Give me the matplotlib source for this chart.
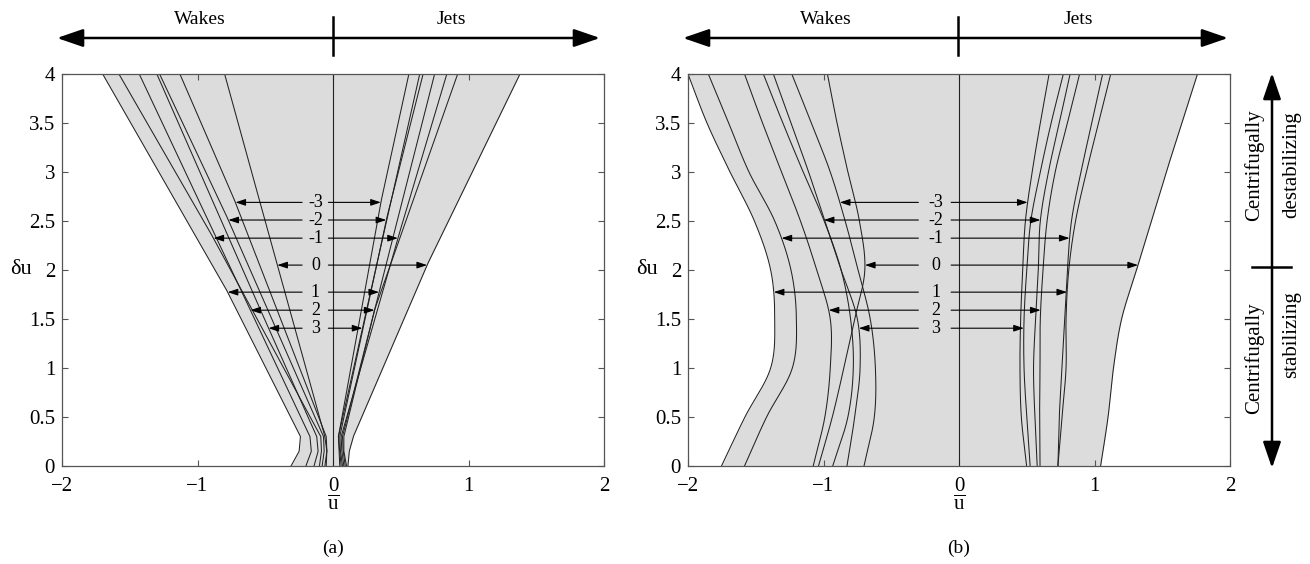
import numpy as np
import matplotlib
matplotlib.use("Agg")
import matplotlib.pyplot as plt
from matplotlib.patches import FancyArrowPatch

plt.rcParams['font.family'] = ['Liberation Serif', 'DejaVu Serif']
plt.rcParams['mathtext.fontset'] = 'custom'
plt.rcParams['mathtext.rm'] = 'Liberation Serif'

# labels of the branches and the height where each one is pointed at
labels = [-3, -2, -1, 0, 1, 2, 3]
label_y = [2.69, 2.51, 2.325, 2.05, 1.774, 1.59, 1.406]

# panel (a): nearly straight branches, u at y = 0, 0.15, 0.3, label_y, 4
a_wake_base = [-0.06, -0.08, -0.10, -0.05, -0.31, -0.20, -0.14]
a_wake_low = [-0.045, -0.065, -0.085, -0.045, -0.25, -0.16, -0.11]
a_wake_knee = [-0.05, -0.07, -0.09, -0.06, -0.24, -0.17, -0.12]
a_wake_tip = [-0.72, -0.772, -0.882, -0.411, -0.777, -0.61, -0.476]
a_wake_top = [-1.13, -1.28, -1.58, -0.80, -1.70, -1.43, -1.30]

a_jet_base = [0.06, 0.07, 0.08, 0.11, 0.09, 0.10, 0.05]
a_jet_low = [0.05, 0.055, 0.065, 0.12, 0.075, 0.08, 0.045]
a_jet_knee = [0.04, 0.05, 0.06, 0.15, 0.07, 0.08, 0.04]
a_jet_tip = [0.353, 0.393, 0.479, 0.694, 0.34, 0.306, 0.217]
a_jet_top = [0.56, 0.665, 0.84, 1.38, 0.75, 0.92, 0.64]

# panel (b): curved branches, u at heights b_y (same label order)
b_y = [0, 0.5, 1.0, 1.5, 2.0, 2.5, 3.0, 3.5, 4.0]
b_wake_u = [
    [-0.701, -0.625, -0.617, -0.655, -0.745, -0.84, -0.95, -1.09, -1.234],
    [-0.932, -0.82, -0.78, -0.80, -0.87, -0.995, -1.15, -1.30, -1.444],
    [-1.583, -1.42, -1.23, -1.20, -1.24, -1.36, -1.55, -1.70, -1.85],
    [-1.037, -0.935, -0.85, -0.77, -0.695, -0.735, -0.82, -0.90, -0.971],
    [-1.753, -1.58, -1.39, -1.36, -1.39, -1.51, -1.69, -1.86, -2.0],
    [-1.076, -0.99, -0.95, -0.95, -1.05, -1.17, -1.31, -1.45, -1.583],
    [-0.827, -0.77, -0.73, -0.75, -0.87, -0.99, -1.11, -1.24, -1.37],
]
b_jet_u = [
    [0.499, 0.46, 0.45, 0.455, 0.47, 0.49, 0.54, 0.60, 0.665],
    [0.577, 0.56, 0.55, 0.565, 0.585, 0.60, 0.66, 0.74, 0.82],
    [0.73, 0.74, 0.76, 0.78, 0.80, 0.83, 0.90, 0.98, 1.06],
    [1.045, 1.10, 1.14, 1.20, 1.31, 1.42, 1.53, 1.645, 1.76],
    [0.73, 0.76, 0.79, 0.79, 0.81, 0.86, 0.94, 1.03, 1.12],
    [0.598, 0.595, 0.598, 0.60, 0.62, 0.65, 0.71, 0.80, 0.89],
    [0.525, 0.50, 0.48, 0.48, 0.50, 0.53, 0.60, 0.68, 0.77],
]

x_ticks = [-2, -1, 0, 1, 2]
y_ticks = [0, 0.5, 1, 1.5, 2, 2.5, 3, 3.5, 4]
y_tick_labels = ['0', '0.5', '1', '1.5', '2', '2.5', '3', '3.5', '4']

FILL = '#dcdcdc'
LINE = '#222222'
FRAME = '#555555'


def hermite(ys, us, yy):
    ys = np.asarray(ys, float)
    us = np.asarray(us, float)
    m = np.gradient(us, ys)
    i = np.clip(np.searchsorted(ys, yy) - 1, 0, len(ys) - 2)
    h = ys[i + 1] - ys[i]
    t = (yy - ys[i]) / h
    h00 = 2 * t**3 - 3 * t**2 + 1
    h10 = t**3 - 2 * t**2 + t
    h01 = -2 * t**3 + 3 * t**2
    h11 = t**3 - t**2
    return h00 * us[i] + h10 * h * m[i] + h01 * us[i + 1] + h11 * h * m[i + 1]


yy = np.linspace(0, 4, 600)


def panel_a_curves():
    wakes, jets = [], []
    for k in range(len(labels)):
        knots = [0, 0.15, 0.3, label_y[k], 4]
        wakes.append(np.interp(yy, knots, [a_wake_base[k], a_wake_low[k], a_wake_knee[k],
                                           a_wake_tip[k], a_wake_top[k]]))
        jets.append(np.interp(yy, knots, [a_jet_base[k], a_jet_low[k], a_jet_knee[k],
                                          a_jet_tip[k], a_jet_top[k]]))
    return wakes, jets


def panel_b_curves():
    wakes = [hermite(b_y, u, yy) for u in b_wake_u]
    jets = [hermite(b_y, u, yy) for u in b_jet_u]
    return wakes, jets


def draw_panel(ax, wakes, jets, label_x, left_start, right_start, tag):
    allu = np.array(wakes + jets)
    ax.fill_betweenx(yy, allu.min(axis=0), allu.max(axis=0), color=FILL, lw=0, zorder=0)
    for u in wakes + jets:
        ax.plot(u, yy, color=LINE, lw=0.75, zorder=2)
    ax.axvline(0, color=LINE, lw=0.8, zorder=2)

    head = '-|>,head_length=0.6,head_width=0.2'
    for k, n in enumerate(labels):
        y = label_y[k]
        wl = np.interp(y, yy, wakes[k])
        jr = np.interp(y, yy, jets[k])
        ax.annotate('', xy=(wl, y), xytext=(left_start, y),
                    arrowprops=dict(arrowstyle=head, lw=0.8, color='k',
                                    shrinkA=0, shrinkB=0, mutation_scale=10), zorder=3)
        ax.annotate('', xy=(jr, y), xytext=(right_start, y),
                    arrowprops=dict(arrowstyle=head, lw=0.8, color='k',
                                    shrinkA=0, shrinkB=0, mutation_scale=10), zorder=3)
        ax.text(label_x, y, str(n), ha='center', va='center', fontsize=13, zorder=4)

    ax.set_xlim(-2, 2)
    ax.set_ylim(0, 4)
    ax.set_xticks(x_ticks)
    ax.set_yticks(y_ticks)
    ax.set_yticklabels(y_tick_labels)
    ax.tick_params(direction='in', top=True, right=True, length=4, width=0.8,
                   colors=FRAME, labelcolor='k', labelsize=15)
    ax.tick_params(axis='x', pad=8)
    ax.tick_params(axis='y', pad=5)
    for s in ax.spines.values():
        s.set_color(FRAME)
        s.set_linewidth(0.9)
    ax.text(-0.075, 0.5, 'δu', transform=ax.transAxes, ha='center', va='center', fontsize=16)
    ax.text(0.5, -0.1, r'$\overline{\mathrm{u}}$', transform=ax.transAxes,
            ha='center', va='center', fontsize=15)
    ax.text(0.5, -0.21, tag, transform=ax.transAxes, ha='center', va='center', fontsize=14)


fig = plt.figure(figsize=(13.1, 5.64), dpi=100)
ax_a = fig.add_axes([62 / 1310, 98 / 564, 542 / 1310, 392 / 564])
ax_b = fig.add_axes([688 / 1310, 98 / 564, 542 / 1310, 392 / 564])

wa, ja = panel_a_curves()
draw_panel(ax_a, wa, ja, -0.13, -0.228, -0.034, '(a)')
wb, jb = panel_b_curves()
draw_panel(ax_b, wb, jb, -0.17, -0.30, -0.058, '(b)')

# decorations in pixel coordinates of the whole figure
over = fig.add_axes([0, 0, 1, 1])
over.set_xlim(0, 1310)
over.set_ylim(564, 0)
over.axis('off')
over.patch.set_alpha(0)

big = '<|-|>,head_length=1.6,head_width=0.55'
for x0, x1, xm in [(57, 600, 333), (683, 1228, 958)]:
    over.add_patch(FancyArrowPatch((x0, 38), (x1, 38), arrowstyle=big, mutation_scale=10,
                                   lw=1.8, color='k', shrinkA=0, shrinkB=0))
    over.plot([xm, xm], [17, 55], color='k', lw=1.8)
    over.text((x0 + xm) / 2 + 5, 20, 'Wakes', ha='center', va='center', fontsize=14)
    over.text((xm + x1) / 2 - 15, 20, 'Jets', ha='center', va='center', fontsize=14)

over.add_patch(FancyArrowPatch((1272, 468), (1272, 73), arrowstyle=big, mutation_scale=10,
                               lw=1.8, color='k', shrinkA=0, shrinkB=0))
over.plot([1252, 1291], [267, 267], color='k', lw=1.8)
over.text(1254, 165, 'Centrifugally', rotation=90, ha='center', va='center', fontsize=15)
over.text(1292, 165, 'destabilizing', rotation=90, ha='center', va='center', fontsize=15)
over.text(1254, 358, 'Centrifugally', rotation=90, ha='center', va='center', fontsize=15)
over.text(1292, 335, 'stabilizing', rotation=90, ha='center', va='center', fontsize=15)

fig.savefig('out.png', dpi=100)
plt.close(fig)
